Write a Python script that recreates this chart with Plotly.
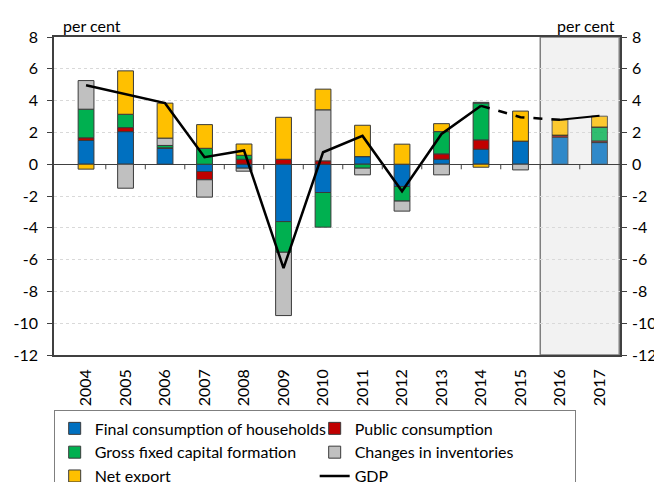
import plotly.graph_objects as go

years = [str(y) for y in range(2004, 2018)]
households = [1.49, 2.05, 1.00, -0.46, -0.25, -3.61, -1.78, 0.48, -1.40, 0.31, 0.94, 1.45, 1.70, 1.36]
public = [0.17, 0.25, 0.03, -0.52, 0.31, 0.31, 0.21, 0.0, 0.0, 0.34, 0.59, 0.0, 0.12, 0.10]
gfcf = [1.80, 0.84, 0.15, 1.00, 0.25, -1.93, -2.18, -0.25, -0.92, 1.40, 2.31, 0.0, 0.0, 0.87]
inventories = [1.80, -1.51, 0.46, -1.09, -0.19, -3.98, 3.21, -0.42, -0.63, -0.67, 0.05, -0.36, 0.0, 0.0]
net_export = [-0.31, 2.73, 2.20, 1.49, 0.71, 2.64, 1.30, 1.97, 1.26, 0.50, -0.19, 1.89, 0.97, 0.69]
gdp = [4.97, 4.40, 3.84, 0.44, 0.86, -6.54, 0.75, 1.78, -1.70, 1.90, 3.67, 2.96, 2.79, 3.04]

y_ticks = [-12, -10, -8, -6, -4, -2, 0, 2, 4, 6, 8]
y_ticktext = ["-12", "-10", "-8", "-6", "-4", "-2", "0", "2", "4", "6", "8"]

n_actual = 12  # 2016-2017 are forecast years (shaded)

series = [
    ("Final consumption of households", households, "#0070c0"),
    ("Public consumption", public, "#c00000"),
    ("Gross fixed capital formation", gfcf, "#00b050"),
    ("Changes in inventories", inventories, "#c0c0c0"),
    ("Net export", net_export, "#ffc000"),
]

FONT = "Lato"
FS = 16
fig = go.Figure()

# forecast shading
fig.add_shape(type="rect", xref="x", yref="paper",
              x0=n_actual - 0.5, x1=len(years) - 0.5, y0=0, y1=1,
              fillcolor="#f2f2f2", line=dict(color="#7f7f7f", width=1.5), layer="below")

opac = [1.0] * n_actual + [0.8] * (len(years) - n_actual)
for name, vals, col in series:
    fig.add_trace(go.Bar(
        x=years, y=vals, name=name, width=0.4,
        marker=dict(color=col, opacity=opac, line=dict(color="#3a3a3a", width=1)),
    ))

# GDP: solid for history, dashed 2014-2016, solid 2016-2017
fig.add_trace(go.Scatter(x=years[:11], y=gdp[:11], mode="lines", name="GDP",
                         line=dict(color="black", width=2.5)))
fig.add_trace(go.Scatter(x=years[10:13], y=gdp[10:13], mode="lines", showlegend=False,
                         line=dict(color="black", width=2.5, dash="dash")))
fig.add_trace(go.Scatter(x=years[12:], y=gdp[12:], mode="lines", showlegend=False,
                         line=dict(color="black", width=2)))
# right-hand axis
fig.add_trace(go.Scatter(x=years[:1], y=[0], yaxis="y2", mode="markers",
                         marker=dict(opacity=0), showlegend=False, hoverinfo="skip"))

# small category ticks on the zero line
for i in range(len(years) - 1):
    fig.add_shape(type="line", xref="x", yref="y", x0=i + 0.5, x1=i + 0.5,
                  y0=0, y1=-0.32, line=dict(color="#404040", width=1))

fig.add_annotation(text="per cent", xref="paper", yref="paper", x=0.012, y=1.0,
                   xanchor="left", yanchor="bottom", showarrow=False,
                   font=dict(size=FS, family=FONT, color="black"))
fig.add_annotation(text="per cent", xref="paper", yref="paper", x=0.995, y=1.0,
                   xanchor="right", yanchor="bottom", showarrow=False,
                   font=dict(size=FS, family=FONT, color="black"))

yax = dict(range=[-12, 8], tickvals=y_ticks, ticktext=y_ticktext,
           tickfont=dict(size=FS, family=FONT, color="black"),
           showline=True, linecolor="#404040", linewidth=1.5,
           ticks="outside", ticklen=5, tickcolor="#404040")

# page body adds an 8px offset, margins below compensate for it
fig.update_layout(
    width=662, height=482,
    margin=dict(l=46, r=50, t=29, b=135),
    plot_bgcolor="white", paper_bgcolor="white",
    barmode="relative", bargap=0.6,
    font=dict(family=FONT, size=FS, color="black"),
    xaxis=dict(tickangle=-90, tickfont=dict(size=FS, family=FONT, color="black"),
               showline=True, linecolor="#404040", linewidth=1.5, mirror=True,
               ticks="", showgrid=False, automargin=False, ticklabelstandoff=6),
    yaxis=dict(**yax, showgrid=True, gridcolor="#d9d9d9", griddash="dot",
               zeroline=True, zerolinecolor="#404040", zerolinewidth=1.2,
               automargin=False, ticklabelstandoff=6),
    yaxis2=dict(**yax, overlaying="y", side="right", showgrid=False, zeroline=False,
                automargin=False, ticklabelstandoff=2),
    legend=dict(orientation="h", xref="container", x=0.069, xanchor="left",
                yref="container", y=0.165, yanchor="top",
                entrywidth=215, entrywidthmode="pixels", traceorder="normal",
                bordercolor="#7f7f7f", borderwidth=1, bgcolor="white",
                font=dict(size=FS, family=FONT), tracegroupgap=0),
    showlegend=True,
)

fig.write_html("out.html")
